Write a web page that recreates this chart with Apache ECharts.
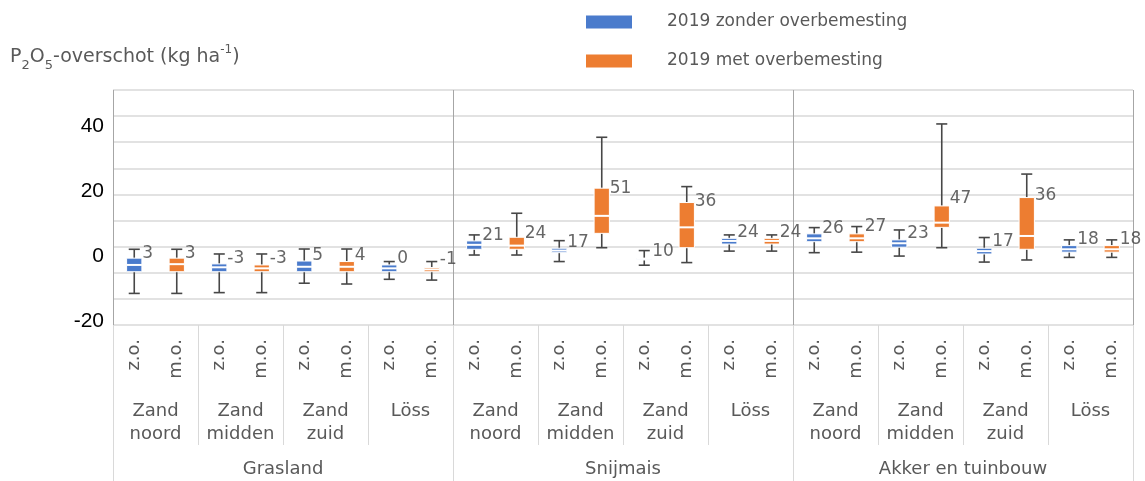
<!DOCTYPE html>
<html>
<head>
<meta charset="utf-8">
<script src="https://cdn.jsdelivr.net/npm/echarts@6/dist/echarts.min.js"></script>
<style>
    html, body { margin: 0; padding: 0; background: #fff; }
    #chart { width: 1145px; height: 481px; }
</style>
</head>
<body>
<div id="chart"></div>
<script>
// ============================================
// Data
// ============================================
const treatments = ['z.o.', 'm.o.'];
const soilTypes = ['Zand\nnoord', 'Zand\nmidden', 'Zand\nzuid', 'Löss'];
const landUses = ['Grasland', 'Snijmais', 'Akker en tuinbouw'];

const seriesNames = ['2019 zonder overbemesting', '2019 met overbemesting'];

// box values per soil group: [min, q1, median, q3, max]
const zonderBoxes = [
    [-17.9, -9.6, -7.0, -4.4, -1.0],
    [-17.6, -9.6, -7.9, -6.6, -2.8],
    [-14.0, -9.6, -7.7, -5.5, -0.9],
    [-12.5, -9.6, -8.3, -7.0, -5.7],
    [-3.2, -1.0, 0.7, 2.2, 4.5],
    [-5.7, -2.3, -1.5, -0.6, 2.3],
    [-7.1, -5.1, -4.7, -4.4, -1.5],
    [-1.7, 1.0, 2.2, 3.2, 4.5],
    [-2.3, 1.9, 3.2, 4.9, 7.3],
    [-3.6, -0.2, 1.3, 2.6, 6.4],
    [-5.9, -2.8, -1.7, -0.6, 3.5],
    [-4.1, -2.1, -1.0, 0.4, 2.6]
];
const metBoxes = [
    [-17.9, -9.6, -6.7, -4.4, -1.0],
    [-17.6, -9.6, -8.3, -7.0, -2.8],
    [-14.3, -9.6, -7.7, -5.7, -0.9],
    [-12.8, -9.6, -8.7, -8.0, -5.7],
    [-3.2, -1.0, 0.4, 3.6, 12.8],
    [-0.4, 5.1, 11.8, 22.4, 41.9],
    [-6.1, -0.4, 7.4, 16.9, 23.0],
    [-1.7, 1.0, 2.2, 3.2, 4.5],
    [-2.1, 1.9, 3.2, 4.9, 7.7],
    [-0.4, 7.4, 9.2, 15.6, 47.0],
    [-5.1, -1.0, 4.1, 18.8, 27.8],
    [-4.1, -2.1, -1.0, 0.4, 2.6]
];

// printed values next to the boxes and the height they sit at
const zonderLabels = ['3', '-3', '5', '0', '21', '17', '10', '24', '26', '23', '17', '18'];
const metLabels = ['3', '-3', '4', '-1', '24', '51', '36', '24', '27', '47', '36', '18'];
const zonderLabelY = [-2.5, -4.7, -3.6, -4.7, 4.2, 1.7, -1.9, 5.4, 6.8, 5.1, 1.9, 2.6];
const metLabelY = [-2.5, -4.7, -3.6, -5.1, 4.9, 22.4, 17.2, 5.4, 7.7, 18.3, 19.4, 2.6];

const valueTicks = [-20, 0, 20, 40];

// ============================================
// Build
// ============================================
const COLORS = ['#4a7bcc', '#ed7d31'];
const FONT = 'DejaVu Sans';
const TEXT_GRAY = '#595959';

const treatmentCats = [];
const soilCats = [];
landUses.forEach(() => {
    soilTypes.forEach(s => {
        soilCats.push(s);
        treatments.forEach(t => treatmentCats.push(t));
    });
});

function boxData(boxes, offset) {
    return boxes.map((b, i) => [i * 2 + offset].concat(b));
}
function labelData(labels, ys, offset) {
    return labels.map((t, i) => [i * 2 + offset, ys[i], t]);
}

function renderBox(params, api) {
    const x = api.value(0);
    const pMin = api.coord([x, api.value(1)]);
    const pQ1 = api.coord([x, api.value(2)]);
    const pMed = api.coord([x, api.value(3)]);
    const pQ3 = api.coord([x, api.value(4)]);
    const pMax = api.coord([x, api.value(5)]);
    const band = api.size([1, 0])[0];
    const boxW = band * 0.36;
    const capW = band * 0.26;
    const cx = pMin[0];
    const whisker = { stroke: '#474747', lineWidth: 1.6 };
    return {
        type: 'group',
        children: [
            { type: 'line', shape: { x1: cx, y1: pMax[1], x2: cx, y2: pMin[1] }, style: whisker },
            { type: 'line', shape: { x1: cx - capW / 2, y1: pMax[1], x2: cx + capW / 2, y2: pMax[1] }, style: whisker },
            { type: 'line', shape: { x1: cx - capW / 2, y1: pMin[1], x2: cx + capW / 2, y2: pMin[1] }, style: whisker },
            {
                type: 'rect',
                shape: { x: cx - boxW / 2, y: pQ3[1], width: boxW, height: pQ1[1] - pQ3[1] },
                style: { fill: api.visual('color'), stroke: '#fff', lineWidth: 1 }
            },
            {
                type: 'line',
                shape: { x1: cx - boxW / 2, y1: pMed[1], x2: cx + boxW / 2, y2: pMed[1] },
                style: { stroke: '#fff', lineWidth: 2 }
            }
        ]
    };
}

const gridRect = { left: 113, right: 12, top: 90, bottom: 156 };

const option = {
    animation: false,
    backgroundColor: '#fff',
    title: {
        left: 10,
        top: 46,
        padding: 0,
        text: '{a|P}{s|2}{a|O}{s|5}{a|-overschot (kg ha}{u|-1}{a|)}',
        textStyle: {
            rich: {
                a: { fontFamily: FONT, fontSize: 19, fontWeight: 'normal', color: TEXT_GRAY, lineHeight: 22 },
                s: { fontFamily: FONT, fontSize: 13, fontWeight: 'normal', color: TEXT_GRAY, verticalAlign: 'bottom', padding: [0, 0, -4, 0] },
                u: { fontFamily: FONT, fontSize: 12, fontWeight: 'normal', color: TEXT_GRAY, verticalAlign: 'top', padding: [-2, 0, 0, 0] }
            }
        }
    },
    legend: {
        orient: 'vertical',
        left: 586,
        top: 12,
        padding: 0,
        itemWidth: 46,
        itemHeight: 13,
        itemGap: 19,
        icon: 'rect',
        data: seriesNames,
        textStyle: { fontFamily: FONT, fontSize: 17, color: TEXT_GRAY, lineHeight: 20, padding: [0, 0, 0, 30] }
    },
    grid: [gridRect, gridRect, gridRect].map(g => Object.assign({}, g)),
    xAxis: [
        {
            type: 'category',
            gridIndex: 0,
            data: treatmentCats,
            axisLine: { show: false },
            axisTick: { show: false },
            axisLabel: { interval: 0, rotate: 90, margin: 14, fontFamily: FONT, fontSize: 18, color: TEXT_GRAY }
        },
        {
            type: 'category',
            gridIndex: 1,
            data: soilCats,
            axisLine: { show: false },
            axisTick: { show: true, length: 120, lineStyle: { color: '#d9d9d9', width: 1 } },
            axisLabel: { interval: 0, margin: 75, fontFamily: FONT, fontSize: 18, lineHeight: 23, color: TEXT_GRAY }
        },
        {
            type: 'category',
            gridIndex: 2,
            data: landUses,
            axisLine: { show: false },
            axisTick: { show: true, length: 156, lineStyle: { color: '#d9d9d9', width: 1 } },
            splitLine: { show: true, lineStyle: { color: '#a6a6a6', width: 1 } },
            axisLabel: { interval: 0, margin: 135, fontFamily: FONT, fontSize: 18, color: TEXT_GRAY }
        }
    ],
    yAxis: [
        {
            type: 'value',
            gridIndex: 0,
            min: -30,
            max: 60,
            interval: 10,
            axisLine: { show: false },
            axisTick: { show: false },
            axisLabel: { show: false },
            splitLine: { show: true, lineStyle: { color: '#d9d9d9', width: 1.5 } }
        },
        {
            type: 'value',
            gridIndex: 0,
            position: 'left',
            min: -21.3,
            max: 51.2,
            axisLine: { show: false },
            axisTick: { show: false },
            splitLine: { show: false },
            axisLabel: {
                customValues: valueTicks,
                margin: 9,
                fontFamily: 'Liberation Sans',
                fontSize: 21,
                color: '#000'
            }
        },
        { type: 'value', gridIndex: 1, show: false },
        { type: 'value', gridIndex: 2, show: false }
    ],
    series: [
        {
            name: seriesNames[0],
            type: 'custom',
            xAxisIndex: 0,
            yAxisIndex: 0,
            itemStyle: { color: COLORS[0] },
            renderItem: renderBox,
            encode: { x: 0, y: [1, 2, 3, 4, 5] },
            data: boxData(zonderBoxes, 0)
        },
        {
            name: seriesNames[1],
            type: 'custom',
            xAxisIndex: 0,
            yAxisIndex: 0,
            itemStyle: { color: COLORS[1] },
            renderItem: renderBox,
            encode: { x: 0, y: [1, 2, 3, 4, 5] },
            data: boxData(metBoxes, 1)
        },
        {
            type: 'scatter',
            xAxisIndex: 0,
            yAxisIndex: 0,
            symbolSize: 0,
            silent: true,
            label: {
                show: true,
                position: 'right',
                distance: 8,
                formatter: p => p.value[2],
                fontFamily: FONT,
                fontSize: 17,
                color: '#404040'
            },
            data: labelData(zonderLabels, zonderLabelY, 0).concat(labelData(metLabels, metLabelY, 1))
        }
    ]
};

const chart = echarts.init(document.getElementById('chart'));
chart.setOption(option);
</script>
</body>
</html>
